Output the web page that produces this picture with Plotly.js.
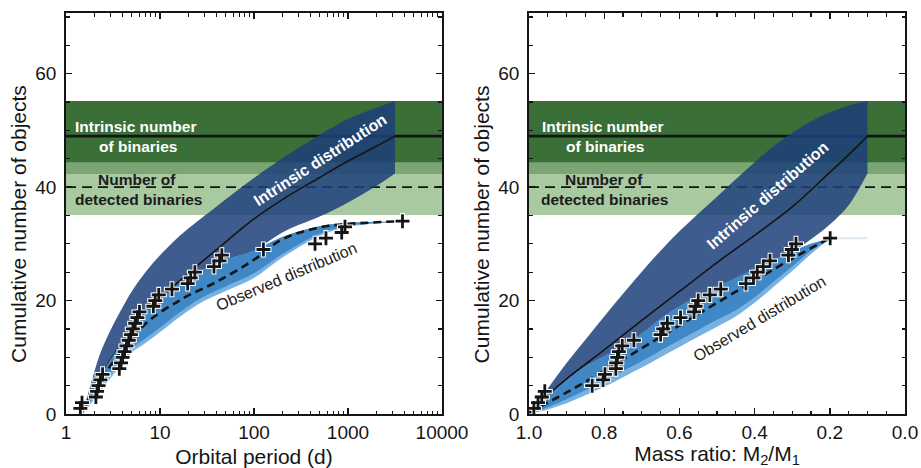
<!DOCTYPE html>
<html>
<head>
<meta charset="utf-8">
<script src="https://cdn.plot.ly/plotly-3.0.1.min.js"></script>
<style>html,body{margin:0;padding:0;background:#fff;}#chart{width:921px;height:468px;}</style>
</head>
<body>
<div id="chart"></div>
<script>
// ---------- Reference levels (cumulative number of objects) ----------
const intrinsicNumber = 49;
const intrinsicRange = [42.3, 55.2];
const detectedNumber = 40;
const detectedRange = [35.1, 44.4];

// ---------- Left panel: orbital period (d) ----------
const perBand  = [1.6, 1.8, 2.0, 2.3, 3, 4, 5, 7, 10, 15, 20, 40, 100, 200, 500, 1000, 2000, 3160];
const intrUpL  = [1.5, 4.8, 7.4, 10.6, 14.9, 18.8, 21.6, 25.0, 28.0, 30.9, 32.7, 36.6, 41.6, 45.1, 49.2, 52.0, 54.0, 55.2];
const intrMidL = [0.8, 2.6, 4.2, 6.2, 9.6, 12.6, 14.6, 17.4, 20.4, 23.0, 24.8, 29.0, 34.4, 37.8, 41.7, 44.6, 47.2, 49.0];
const intrLoL  = [0.8, 2.5, 4.0, 5.5, 8.4, 11.2, 13.2, 15.5, 17.7, 20.0, 21.5, 24.2, 28.6, 32.0, 34.8, 37.3, 40.2, 42.4];

const perObsBand = [1.5, 2, 3, 4, 5, 7, 10, 15, 20, 30, 50, 100, 200, 500, 1000, 2000, 3160];
const obsUpL  = [0.3, 4.6, 9.6, 12.6, 14.8, 17.7, 20.2, 22.6, 24.0, 25.6, 27.2, 28.8, 31.2, 33.1, 33.7, 33.9, 34.0];
const obsLoL  = [0.0, 3.2, 7.2, 9.8, 11.6, 13.3, 15.2, 17.5, 19.0, 20.8, 22.5, 24.8, 28.2, 31.8, 33.2, 33.7, 33.9];
const obsOutL = [0.0, 2.6, 6.4, 9.0, 10.8, 12.5, 14.4, 16.7, 18.2, 20.0, 21.7, 24.0, 27.6, 31.4, 33.0, 33.6, 33.9];

const perObsMid = [1.4, 1.7, 2, 2.5, 3, 4, 5, 7, 10, 15, 20, 40, 100, 200, 500, 1000, 2000, 3800];
const obsMidL   = [0.5, 2.5, 4.0, 6.6, 8.6, 11.3, 13.2, 15.9, 17.9, 19.7, 20.9, 23.3, 27.2, 30.8, 32.9, 33.5, 33.8, 34.0];

const periods = [1.42, 1.48, 2.08, 2.14, 2.22, 2.32, 2.45, 3.69, 3.85, 4.0, 4.2, 4.4, 4.65, 4.9, 5.15, 5.45, 5.75, 6.05,
                 8.5, 8.9, 9.7, 13.4, 19.7, 21.2, 23.5, 37.5, 43, 45.5, 126, 446, 583, 857, 929, 3800];
const cumL = [1,2,3,4,5,6,7,8,9,10,11,12,13,14,15,16,17,18,19,20,21,22,23,24,25,26,27,28,29,30,31,32,33,34];

// ---------- Right panel: mass ratio M2/M1 ----------
const qBand   = [0.95, 0.9, 0.85, 0.8, 0.75, 0.7, 0.65, 0.6, 0.55, 0.5, 0.45, 0.4, 0.35, 0.3, 0.25, 0.2, 0.15, 0.1];
const intrUpR = [4.5, 9.0, 13.1, 17.2, 21.2, 25.1, 28.8, 32.2, 35.3, 38.3, 41.4, 44.4, 47.2, 49.6, 51.6, 53.2, 54.4, 55.2];
const intrLoR = [1.5, 4.2, 6.8, 8.8, 10.6, 12.8, 15.2, 17.5, 19.5, 21.2, 22.9, 24.6, 26.6, 28.5, 30.8, 33.4, 36.8, 42.4];

const qLine    = [1.0, 0.95, 0.9, 0.8, 0.7, 0.6, 0.5, 0.4, 0.3, 0.2, 0.15, 0.1];
const intrMidR = [0.3, 3.4, 6.2, 11.3, 16.5, 21.6, 26.7, 31.5, 36.5, 42.6, 45.7, 49.0];

const qObsBand = [1.0, 0.95, 0.9, 0.85, 0.8, 0.75, 0.7, 0.65, 0.6, 0.55, 0.5, 0.45, 0.4, 0.35, 0.3, 0.25, 0.2];
const obsUpR  = [0, 3.0, 5.9, 8.4, 10.2, 12.0, 14.2, 16.8, 19.0, 20.8, 22.4, 24.0, 25.5, 27.1, 28.6, 30.0, 31.0];
const obsLoR  = [0, 1.2, 2.6, 4.2, 5.8, 7.6, 9.3, 11.2, 13.0, 14.8, 16.6, 18.3, 20.6, 23.3, 26.0, 28.8, 31.0];
const obsOutR = [0, 0.8, 1.9, 3.3, 4.8, 6.5, 8.2, 10.0, 11.8, 13.6, 15.4, 17.2, 19.6, 22.4, 25.2, 28.2, 30.9];

const qMid    = [1.0, 0.9, 0.8, 0.7, 0.6, 0.5, 0.4, 0.3, 0.2];
const obsMidR = [0.3, 3.8, 7.6, 11.6, 15.6, 19.6, 23.5, 27.4, 31.0];

const qTail = [0.2, 0.1];
const nTail = [31.0, 31.0];

const massRatios = [0.987, 0.976, 0.966, 0.958, 0.832, 0.803, 0.798, 0.769, 0.768, 0.765, 0.761, 0.752, 0.721,
                    0.650, 0.643, 0.632, 0.597, 0.561, 0.557, 0.550, 0.519, 0.490, 0.423, 0.403, 0.393, 0.377,
                    0.359, 0.310, 0.301, 0.290, 0.199];
const cumR = [1,2,3,4,5,6,7,8,9,10,11,12,13,14,15,16,17,18,19,20,21,22,23,24,25,26,27,28,29,30,31];

// ---------- Tick labels ----------
const perTicks = [1, 10, 100, 1000, 10000];
const perTickText = ['1', '10', '100', '1000', '10000'];
const qTicks = [1.0, 0.8, 0.6, 0.4, 0.2, 0.0];
const qTickText = ['1.0', '0.8', '0.6', '0.4', '0.2', '0.0'];

// ---------- Styling ----------
const C = {
  darkGreen: '#3a6f37', midGreen: '#7ba673', lightGreen: '#a9c9a1',
  intrBand: 'rgba(28,64,122,0.85)', obsBand: '#4088c5', obsOuter: '#78b2e2',
  ink: '#151515'
};
const FONT = 'Liberation Sans, Arial, Helvetica, sans-serif';
const SPL = {shape: 'spline', smoothing: 1};

// band between two smooth edges: lower edge trace, then upper edge filled to it
function band(xs, ys, x, up, lo, color) {
  return [
    {x: x, y: lo, xaxis: xs, yaxis: ys, mode: 'lines', line: Object.assign({width: 0, color: color}, SPL), hoverinfo: 'skip'},
    {x: x, y: up, xaxis: xs, yaxis: ys, mode: 'lines', fill: 'tonexty', fillcolor: color,
     line: Object.assign({width: 0, color: color}, SPL), hoverinfo: 'skip'}
  ];
}

function panel(xs, ys, bandX, up, mid, lo, obsX, oUp, oLo, oOut, midX, oMid, px, py) {
  let tr = [];
  tr = tr.concat(band(xs, ys, bandX, up, lo, C.intrBand));
  tr.push({x: mid[0], y: mid[1], xaxis: xs, yaxis: ys, mode: 'lines',
           line: Object.assign({color: C.ink, width: 1.6}, SPL), hoverinfo: 'skip'});
  tr = tr.concat(band(xs, ys, obsX, oUp, oOut, C.obsOuter));
  tr = tr.concat(band(xs, ys, obsX, oUp, oLo, C.obsBand));
  tr.push({x: midX, y: oMid, xaxis: xs, yaxis: ys, mode: 'lines',
           line: Object.assign({color: C.ink, width: 2.6, dash: '8px,5px'}, SPL), hoverinfo: 'skip'});
  tr.push({x: px, y: py, xaxis: xs, yaxis: ys, mode: 'markers',
           marker: {symbol: 'cross-thin', size: 11.5, line: {color: '#ffffff', width: 4.8}}, hoverinfo: 'skip'});
  tr.push({x: px, y: py, xaxis: xs, yaxis: ys, mode: 'markers',
           marker: {symbol: 'cross-thin', size: 10, line: {color: C.ink, width: 2.8}}, hoverinfo: 'skip'});
  return tr;
}

const traces = []
  .concat(panel('x', 'y', perBand, intrUpL, [perBand, intrMidL], intrLoL,
                perObsBand, obsUpL, obsLoL, obsOutL, perObsMid, obsMidL, periods, cumL))
  .concat([{x: qTail, y: nTail, xaxis: 'x2', yaxis: 'y2', mode: 'lines',
            line: {color: '#dce9f5', width: 2}, hoverinfo: 'skip'}])
  .concat(panel('x2', 'y2', qBand, intrUpR, [qLine, intrMidR], intrLoR,
                qObsBand, obsUpR, obsLoR, obsOutR, qMid, obsMidR, massRatios, cumR));

function bandShapes(xr, yr) {
  const base = {type: 'rect', xref: xr + ' domain', yref: yr, x0: 0, x1: 1, layer: 'below', line: {width: 0}};
  const ln = {type: 'line', xref: xr + ' domain', yref: yr, x0: 0, x1: 1, layer: 'below'};
  return [
    Object.assign({}, base, {y0: detectedRange[0], y1: detectedRange[1], fillcolor: C.lightGreen}),
    Object.assign({}, base, {y0: intrinsicRange[0], y1: intrinsicRange[1], fillcolor: C.darkGreen}),
    Object.assign({}, base, {y0: intrinsicRange[0], y1: detectedRange[1], fillcolor: C.midGreen}),
    Object.assign({}, ln, {y0: intrinsicNumber, y1: intrinsicNumber, line: {color: C.ink, width: 2.6}}),
    Object.assign({}, ln, {y0: detectedNumber, y1: detectedNumber, line: {color: C.ink, width: 1.6, dash: '10px,6px'}})
  ];
}

function texts(xr, yr, o) {
  const a = (x, y, t, col, extra) => Object.assign({xref: xr + ' domain', yref: yr, x: x, y: y, text: t,
    showarrow: false, xanchor: 'left', yanchor: 'middle', font: {family: FONT, size: 15.5, color: col}}, extra || {});
  return [
    a(o.in[0], 50.7, '<b>Intrinsic number</b>', '#ffffff'),
    a(o.ob[0], 47.1, '<b>of binaries</b>', '#ffffff'),
    a(o.nu[0], 41.4, '<b>Number of</b>', '#1c1c1c'),
    a(o.de[0], 37.8, '<b>detected binaries</b>', '#1c1c1c'),
    a(o.id[0], o.id[1], '<b>Intrinsic distribution</b>', '#ffffff',
      {xanchor: 'center', textangle: o.id[2], font: {family: FONT, size: 16, color: '#ffffff'}}),
    a(o.od[0], o.od[1], 'Observed distribution', '#1c1c1c',
      {xanchor: 'center', textangle: o.od[2], font: {family: FONT, size: 16, color: '#1c1c1c'}})
  ];
}

// y-axis titles placed as rotated text beside each panel
function yTitle(xPaper) {
  return {xref: 'paper', yref: 'paper', x: xPaper, y: 0.474, xanchor: 'center', yanchor: 'middle',
          text: 'Cumulative number of objects', showarrow: false, textangle: -90,
          font: {family: FONT, size: 21, color: C.ink}};
}

const axisCommon = {
  showline: true, linecolor: C.ink, linewidth: 1.8, mirror: 'allticks',
  ticks: 'inside', ticklen: 6, tickwidth: 1.4, tickcolor: C.ink,
  showgrid: false, zeroline: false,
  tickfont: {family: FONT, size: 19, color: C.ink},
  minor: {ticks: 'inside', ticklen: 3.5, tickwidth: 1.2, tickcolor: C.ink, showgrid: false}
};
const yCommon = Object.assign({}, axisCommon, {
  range: [0, 70.7], tickvals: [0, 20, 40, 60], ticktext: ['0', '20', '40', '60'],
  minor: Object.assign({}, axisCommon.minor, {tickmode: 'linear', tick0: 0, dtick: 5}),
  ticklabelstandoff: 4
});

const layout = {
  width: 921, height: 468,
  margin: {l: 66, r: 16, t: 13, b: 54},
  paper_bgcolor: '#ffffff', plot_bgcolor: '#ffffff',
  showlegend: false,
  font: {family: FONT, color: C.ink},
  xaxis: Object.assign({}, axisCommon, {
    domain: [0, 0.44815], type: 'log', range: [0, 4],
    tickvals: perTicks, ticktext: perTickText,
    minor: Object.assign({}, axisCommon.minor, {dtick: 'D1'}),
    anchor: 'y',
    title: {text: 'Orbital period (d)', font: {family: FONT, size: 21, color: C.ink}, standoff: 8}
  }),
  yaxis: Object.assign({}, yCommon, {domain: [0, 1], anchor: 'x'}),
  xaxis2: Object.assign({}, axisCommon, {
    domain: [0.55185, 1], range: [1.0, 0.0],
    tickvals: qTicks, ticktext: qTickText,
    minor: Object.assign({}, axisCommon.minor, {tickmode: 'linear', tick0: 0, dtick: 0.05}),
    anchor: 'y2',
    title: {text: 'Mass ratio: M<sub>2</sub>/M<sub>1</sub>', font: {family: FONT, size: 21, color: C.ink}, standoff: 8}
  }),
  yaxis2: Object.assign({}, yCommon, {domain: [0, 1], anchor: 'x2'}),
  shapes: bandShapes('x', 'y').concat(bandShapes('x2', 'y2')),
  annotations: texts('x', 'y', {in: [0.018], ob: [0.082], nu: [0.079], de: [0.018],
                                id: [0.678, 44.8, -33], od: [0.587, 24.2, -23]})
    .concat(texts('x2', 'y2', {in: [0.028], ob: [0.093], nu: [0.090], de: [0.027],
                                id: [0.634, 38.6, -41], od: [0.614, 16.8, -31]}))
    .concat([yTitle(-0.0560), yTitle(0.4952)])
};

Plotly.newPlot('chart', traces, layout, {staticPlot: true, displayModeBar: false});
</script>
</body>
</html>
